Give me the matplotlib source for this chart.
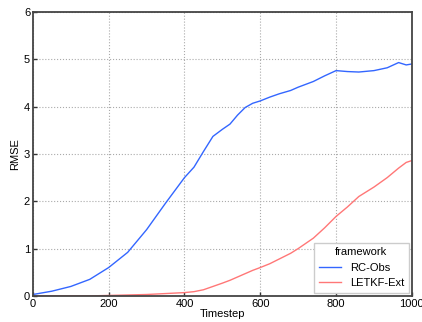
import matplotlib
matplotlib.use("Agg")
import matplotlib.pyplot as plt

plt.rcParams['font.family'] = ['Liberation Sans', 'DejaVu Sans']

# data
steps = [0, 50, 100, 150, 200, 250, 300, 350, 400, 425, 450, 475, 500, 520, 540, 560,
         580, 600, 625, 650, 680, 700, 740, 770, 800, 830, 860, 900, 935, 965, 985, 1000]
rc_obs = [0.03, 0.1, 0.2, 0.35, 0.6, 0.92, 1.4, 1.96, 2.5, 2.72, 3.05, 3.37, 3.52, 3.63,
          3.82, 3.98, 4.07, 4.12, 4.2, 4.27, 4.34, 4.41, 4.53, 4.65, 4.76, 4.74, 4.73, 4.76,
          4.82, 4.93, 4.88, 4.90]
letkf = [0.0, 0.0, 0.0, 0.0, 0.01, 0.02, 0.03, 0.05, 0.07, 0.09, 0.13, 0.2, 0.27, 0.33,
         0.4, 0.47, 0.54, 0.6, 0.68, 0.78, 0.9, 1.0, 1.22, 1.44, 1.68, 1.88, 2.1, 2.3, 2.5,
         2.7, 2.82, 2.86]

fig = plt.figure(figsize=(4.22, 3.22), dpi=100)
ax = fig.add_axes([0.078, 0.081, 0.898, 0.882])

ax.plot(steps, rc_obs, color='#3366ff', lw=1.0, label='RC-Obs')
ax.plot(steps, letkf, color='#ff7777', lw=1.0, label='LETKF-Ext')

ax.set_xlim(0, 1000)
ax.set_ylim(0, 6)
ax.set_xticks([0, 200, 400, 600, 800, 1000])
ax.set_yticks([0, 1, 2, 3, 4, 5, 6])
ax.grid(True, linestyle=':', color='#aaaaaa', lw=0.8)
ax.tick_params(direction='in', labelsize=8, length=3, width=1, pad=2, color='#333333')
for s in ax.spines.values():
    s.set_color('#444444')
    s.set_linewidth(1.3)

ax.set_xlabel('Timestep', fontsize=8, labelpad=0)
ax.set_ylabel('RMSE', fontsize=8, labelpad=3)

leg = ax.legend(title='framework', loc='lower right', fontsize=8, title_fontsize=8,
                fancybox=False, framealpha=1, edgecolor='#cccccc', borderaxespad=0.3)

fig.savefig('out.png', dpi=100)
